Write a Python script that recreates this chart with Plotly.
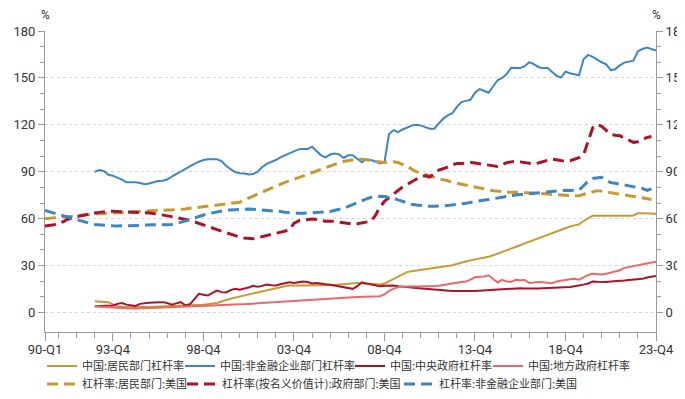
import plotly.graph_objects as go

# ---------------- data ----------------
# quarter index: 0 = 1990-Q1 ... 135 = 2023-Q4
cn_start = 11   # 1992-Q4
us_start = 0    # 1990-Q1

cn_household = [
    7.2, 7.0, 6.9, 6.6, 5.2, 4.0, 3.6, 3.5, 3.4, 3.4,
    3.4, 3.5, 3.5, 3.6, 3.7, 3.8, 3.9, 4.0, 4.1, 4.2,
    4.4, 4.5, 4.7, 4.9, 5.0, 5.3, 5.5, 6.0, 7.0, 8.1,
    8.8, 9.5, 10.2, 10.8, 11.5, 12.2, 12.8, 13.5, 14.3, 15.0,
    15.6, 16.2, 16.8, 17.2, 17.4, 17.3, 17.2, 17.2, 17.2, 17.2,
    17.3, 17.3, 17.5, 17.6, 17.9, 18.2, 18.5, 18.7, 18.8, 18.7,
    18.6, 18.4, 18.2, 17.9, 18.5, 20.0, 21.5, 22.5, 24.5, 25.8,
    26.4, 26.8, 27.4, 27.9, 28.1, 28.4, 28.8, 29.1, 29.5, 30.2,
    31.0, 32.0, 32.6, 33.3, 33.8, 34.3, 35.0, 35.6, 36.5, 37.5,
    38.6, 39.5, 40.5, 41.8, 43.0, 44.2, 45.3, 46.5, 47.5, 48.5,
    49.5, 51.0, 52.0, 53.0, 54.0, 55.0, 55.7, 56.3, 58.5, 60.0,
    61.9, 61.9, 61.9, 61.8, 61.6, 61.5, 61.5, 61.7, 61.8, 62.0,
    63.4, 63.5, 63.5, 63.5, 63.2,
]

cn_nonfin = [
    90.0, 91.1, 90.5, 88.0, 87.5, 86.5, 85.0, 83.2, 83.3, 83.2,
    82.8, 82.0, 82.5, 83.4, 84.0, 84.3, 85.0, 86.8, 88.5, 90.2,
    92.0, 93.7, 95.0, 96.4, 97.5, 98.0, 98.1, 98.0, 96.8, 93.8,
    91.7, 89.8, 89.0, 88.9, 88.2, 88.5, 90.0, 93.0, 95.0, 96.2,
    97.5, 99.2, 100.5, 101.5, 103.0, 104.3, 104.5, 104.5, 106.0, 103.0,
    100.5, 99.2, 101.0, 101.7, 101.0, 98.8, 100.5, 100.5, 98.5, 96.0,
    98.0, 97.5, 96.5, 95.3, 96.0, 114.0, 116.6, 115.3, 117.0, 118.5,
    119.5, 120.0, 119.6, 118.5, 117.5, 117.5, 120.5, 124.0, 126.0, 127.4,
    131.5, 134.5, 135.3, 136.0, 140.5, 142.8, 141.8, 140.5, 144.5, 148.5,
    150.0, 152.5, 156.5, 156.4, 156.3, 157.5, 160.0, 158.8, 157.0, 156.2,
    156.5, 154.0, 151.5, 150.2, 154.0, 153.0, 152.3, 151.7, 161.9, 164.7,
    163.5, 161.5, 160.0, 158.7, 155.0, 155.5, 158.0, 159.8, 160.5, 161.0,
    167.0, 168.5, 169.4, 168.3, 167.5,
]

cn_central = [
    4.0, 4.2, 4.3, 4.3, 4.5, 5.5, 6.0, 5.0, 4.6, 4.2,
    5.5, 6.0, 6.2, 6.4, 6.4, 6.6, 6.0, 5.0, 5.8, 6.6,
    4.6, 5.2, 8.5, 11.9, 11.3, 10.8, 12.5, 14.0, 13.0, 12.8,
    14.3, 15.1, 14.6, 15.2, 16.0, 17.0, 16.4, 17.0, 17.9, 17.4,
    17.2, 18.0, 18.5, 19.3, 18.8, 19.4, 19.8, 19.5, 18.5, 18.8,
    18.6, 18.0, 17.7, 17.2, 16.6, 16.0, 15.7, 15.1, 16.8, 19.2,
    18.5, 17.9, 17.2, 16.7, 17.0, 17.2, 17.2, 16.8, 16.4, 16.2,
    16.0, 15.7, 15.4, 15.1, 14.8, 14.6, 14.3, 14.1, 14.0, 13.8,
    13.7, 13.6, 13.6, 13.7, 13.8, 13.9, 14.0, 14.2, 14.4, 14.6,
    14.8, 15.0, 15.3, 15.4, 15.5, 15.3, 15.2, 15.1, 15.3, 15.4,
    15.5, 15.5, 15.7, 15.9, 16.1, 16.3, 16.8, 17.2, 17.8, 18.5,
    19.8, 19.6, 19.4, 19.5, 19.8, 19.9, 20.2, 20.5, 20.8, 21.0,
    21.3, 21.5, 22.3, 23.0, 23.3,
]

cn_local = [
    3.8, 3.6, 3.4, 3.2, 3.0, 2.8, 2.7, 2.6, 2.6, 2.6,
    2.7, 2.7, 2.8, 2.8, 2.9, 2.9, 3.0, 3.1, 3.2, 3.3,
    3.4, 3.6, 3.7, 3.9, 4.0, 4.2, 4.4, 4.6, 4.8, 4.9,
    5.0, 5.1, 5.2, 5.3, 5.5, 5.7, 5.9, 6.1, 6.3, 6.5,
    6.7, 6.9, 7.1, 7.3, 7.5, 7.6, 7.8, 8.0, 8.2, 8.4,
    8.6, 8.8, 9.0, 9.2, 9.3, 9.5, 9.6, 9.8, 9.9, 10.0,
    10.1, 10.2, 10.3, 10.4, 11.5, 13.8, 15.1, 16.2, 16.5, 16.7,
    16.7, 16.6, 16.6, 16.6, 16.7, 16.9, 17.1, 17.5, 17.8, 18.2,
    19.0, 19.5, 19.8, 21.0, 22.5, 22.8, 23.0, 23.8, 21.5, 19.2,
    20.9, 19.8, 19.6, 20.9, 20.6, 20.8, 18.9, 19.2, 19.4, 19.3,
    18.9, 18.7, 19.8, 20.4, 20.6, 21.3, 21.5, 21.0, 22.5, 24.0,
    24.7, 24.5, 24.3, 24.8, 25.5, 26.2, 27.0, 28.5, 29.0, 29.5,
    30.0, 30.6, 31.3, 32.0, 32.4,
]

us_household = [
    60.0, 60.2, 60.4, 60.6, 60.9, 61.2, 61.6, 62.0, 62.3, 62.6,
    62.9, 63.1, 63.2, 63.3, 63.4, 63.5, 63.7, 63.9, 64.0, 64.2,
    64.4, 64.6, 64.8, 65.0, 65.2, 65.4, 65.5, 65.5, 65.5, 65.6,
    65.9, 66.2, 66.6, 66.9, 67.2, 67.4, 67.7, 68.1, 68.5, 69.0,
    69.5, 69.8, 70.1, 70.5, 71.8, 73.2, 74.5, 75.8, 77.0, 78.2,
    79.5, 80.8, 82.0, 83.2, 84.1, 85.2, 86.3, 87.3, 88.3, 89.3,
    90.4, 91.6, 92.6, 93.6, 94.8, 95.7, 96.5, 97.2, 97.7, 98.1,
    98.0, 97.7, 97.2, 96.6, 96.2, 95.9, 96.1, 96.4, 95.9, 94.8,
    93.4, 91.7, 90.0, 89.2, 88.4, 87.4, 86.4, 85.5, 84.9, 84.2,
    83.2, 82.6, 81.9, 81.2, 80.7, 80.0, 79.4, 78.8, 78.3, 77.9,
    77.6, 77.2, 77.0, 76.8, 76.8, 76.8, 76.7, 76.5, 76.4, 76.3,
    76.2, 75.8, 75.4, 75.2, 75.1, 75.0, 74.8, 74.7, 74.7, 75.5,
    76.3, 77.4, 77.9, 77.6, 77.0, 76.6, 76.1, 75.6, 75.1, 74.7,
    74.2, 73.6, 73.1, 72.6, 72.3,
]

us_government = [
    55.2, 55.6, 56.1, 57.0, 58.0, 59.6, 60.5, 61.2, 61.8, 62.5,
    63.1, 63.6, 64.0, 64.4, 64.7, 64.7, 64.6, 64.5, 64.3, 64.1,
    64.0, 63.9, 63.8, 63.6, 63.3, 62.9, 62.5, 61.9, 61.3, 60.7,
    60.2, 59.6, 58.9, 58.0, 57.1, 56.0, 55.0, 54.0, 53.0, 52.0,
    51.0, 49.9, 49.0, 48.2, 47.6, 47.3, 47.2, 47.8, 48.5, 49.1,
    49.8, 50.6, 51.4, 52.0, 52.7, 57.0, 58.6, 59.1, 59.5, 59.8,
    59.5, 58.8, 58.3, 58.3, 58.3, 57.8, 57.3, 57.0, 56.6, 56.8,
    57.4, 57.9, 58.3, 62.0, 67.5, 71.0, 73.5, 76.0, 78.0, 80.2,
    82.0, 83.6, 85.2, 86.8, 87.4, 86.6, 89.0, 91.0, 92.0, 93.0,
    94.5, 95.2, 95.3, 95.6, 95.9, 95.6, 95.2, 94.8, 94.2, 93.8,
    93.3, 94.5, 95.8, 96.3, 96.6, 96.3, 95.9, 95.4, 94.9, 95.6,
    96.6, 97.4, 98.1, 97.7, 97.2, 96.6, 97.0, 98.0, 99.0, 100.8,
    110.0, 118.0, 120.3, 119.0, 116.5, 113.8, 113.3, 113.0, 111.5, 110.2,
    108.8, 109.2, 110.5, 111.9, 112.5,
]

us_nonfin = [
    65.3, 64.3, 63.3, 62.6, 61.9, 61.0, 60.2, 59.3, 58.5, 57.7,
    56.9, 56.2, 55.9, 55.7, 55.5, 55.4, 55.3, 55.3, 55.3, 55.4,
    55.5, 55.7, 56.0, 56.2, 56.1, 56.0, 56.0, 56.1, 56.2, 56.8,
    57.6, 58.3, 59.2, 60.3, 61.4, 62.4, 63.1, 63.7, 64.3, 64.9,
    65.4, 65.6, 65.8, 66.0, 66.1, 66.2, 66.0, 65.8, 65.6, 65.4,
    65.2, 64.9, 64.5, 64.1, 63.8, 63.5, 63.4, 63.4, 63.5, 63.6,
    63.8, 64.0, 64.3, 64.6, 65.3, 65.9, 66.6, 67.8, 69.1, 70.4,
    71.6, 72.6, 73.5, 74.0, 74.3, 74.2, 73.8, 73.0, 72.0, 71.0,
    70.0, 69.2, 68.7, 68.3, 68.0, 67.9, 67.9, 67.9, 68.1, 68.4,
    68.7, 68.9, 69.3, 69.8, 70.4, 71.0, 71.6, 72.0, 72.3, 72.7,
    73.3, 73.9, 74.4, 74.8, 75.1, 75.4, 75.7, 76.0, 76.3, 76.5,
    76.7, 77.0, 77.5, 78.0, 78.3, 78.2, 78.0, 78.0, 78.3, 81.0,
    84.0, 85.7, 86.2, 86.4, 84.5, 83.0, 82.6, 82.1, 81.7, 81.1,
    80.7, 80.1, 79.3, 78.0, 79.0,
]

tick_positions = [0, 15, 35, 55, 75, 95, 115, 135]
tick_labels = ["90-Q1", "93-Q4", "98-Q4", "03-Q4", "08-Q4", "13-Q4", "18-Q4", "23-Q4"]

names_row1 = ["中国:居民部门杠杆率", "中国:非金融企业部门杠杆率", "中国:中央政府杠杆率", "中国:地方政府杠杆率"]
names_row2 = ["杠杆率:居民部门:美国", "杠杆率(按名义价值计):政府部门:美国", "杠杆率:非金融企业部门:美国"]

# ---------------- styling ----------------
GOLD = "#C8992E"
BLUE = "#3B86C6"
DRED = "#AC1328"
PINK = "#E8696B"
DASH = "11px,6px"
AXIS = "#9a9a9a"
TXT = "#333333"

x_cn = list(range(cn_start, cn_start + len(cn_household)))
x_us = list(range(us_start, us_start + len(us_household)))

# legend slot positions (container fractions: x of box left, y of row centre)
ROW1_Y, ROW2_Y = 0.0844, 0.0384
legend_slots = {
    "legend":  (0.0496, ROW1_Y),
    "legend2": (0.2511, ROW1_Y),
    "legend3": (0.4993, ROW1_Y),
    "legend4": (0.7007, ROW1_Y),
    "legend5": (0.0496, ROW2_Y),
    "legend6": (0.2540, ROW2_Y),
    "legend7": (0.5708, ROW2_Y),
}

fig = go.Figure()

def add(x, y, name, color, dash, width, legend):
    fig.add_trace(go.Scatter(
        x=x, y=y, name=name, mode="lines",
        line=dict(color=color, width=width, dash=dash),
        legend=legend, hoverinfo="skip",
    ))

add(x_cn, cn_household, names_row1[0], GOLD, "solid", 2, "legend")
add(x_cn, cn_nonfin, names_row1[1], BLUE, "solid", 2, "legend2")
add(x_us, us_household, names_row2[0], GOLD, DASH, 3, "legend5")
add(x_us, us_government, names_row2[1], DRED, DASH, 3, "legend6")
add(x_us, us_nonfin, names_row2[2], BLUE, DASH, 3, "legend7")
add(x_cn, cn_central, names_row1[2], DRED, "solid", 2, "legend3")
add(x_cn, cn_local, names_row1[3], PINK, "solid", 2, "legend4")

# empty trace to activate the right-hand axis
fig.add_trace(go.Scatter(x=[], y=[], yaxis="y2", showlegend=False, hoverinfo="skip"))

tick_font = dict(family="Liberation Sans Narrow, Roboto, sans-serif", size=13, color=TXT)
legend_font = dict(family="Noto Sans CJK SC", size=11, color=TXT)
yr = [-12.5, 180]
minor_y = dict(tickmode="array", tickvals=[10, 20, 40, 50, 70, 80, 100, 110, 130, 140, 160, 170],
               ticklen=4, tickcolor=AXIS, ticks="outside", showgrid=False)

legends = {}
for key, (lx, ly) in legend_slots.items():
    legends[key] = dict(
        orientation="h", x=lx, xanchor="left", y=ly, yanchor="middle",
        xref="container", yref="container",
        font=legend_font, bgcolor="rgba(0,0,0,0)", itemwidth=30,
    )

# the page adds an 8px vertical offset, so the figure height is reduced to fit the window
fig.update_layout(
    width=685, height=391,
    margin=dict(l=37, r=37, t=23, b=67, autoexpand=False),
    paper_bgcolor="white", plot_bgcolor="white",
    showlegend=True,
    xaxis=dict(
        range=[0, 135], tickmode="array", tickvals=tick_positions, ticktext=tick_labels,
        showline=True, linecolor=AXIS, linewidth=1,
        ticks="outside", ticklen=8, tickcolor=AXIS, ticklabelstandoff=-3,
        minor=dict(tick0=3, dtick=4, ticklen=5, tickcolor=AXIS, ticks="outside", showgrid=False),
        showgrid=False, zeroline=False, tickfont=tick_font,
    ),
    yaxis=dict(
        range=yr, tick0=0, dtick=30, showline=True, linecolor=AXIS,
        ticks="outside", ticklen=6, tickcolor=AXIS, minor=minor_y,
        showgrid=True, gridcolor="#d6d6d6", griddash="dot", gridwidth=1,
        zeroline=False, tickfont=tick_font,
    ),
    yaxis2=dict(
        range=yr, tick0=0, dtick=30, overlaying="y", side="right",
        showline=True, linecolor=AXIS, ticks="outside", ticklen=6, tickcolor=AXIS,
        minor=minor_y, showgrid=False, zeroline=False, tickfont=tick_font,
    ),
    annotations=[
        dict(text="%", x=0, y=1, xref="paper", yref="paper", xanchor="center", yanchor="bottom",
             yshift=7, showarrow=False, font=dict(family="Liberation Sans Narrow, Roboto, sans-serif", size=12, color=TXT)),
        dict(text="%", x=1, y=1, xref="paper", yref="paper", xanchor="center", yanchor="bottom",
             yshift=7, showarrow=False, font=dict(family="Liberation Sans Narrow, Roboto, sans-serif", size=12, color=TXT)),
    ],
    **legends,
)

fig.write_html("out.html")
